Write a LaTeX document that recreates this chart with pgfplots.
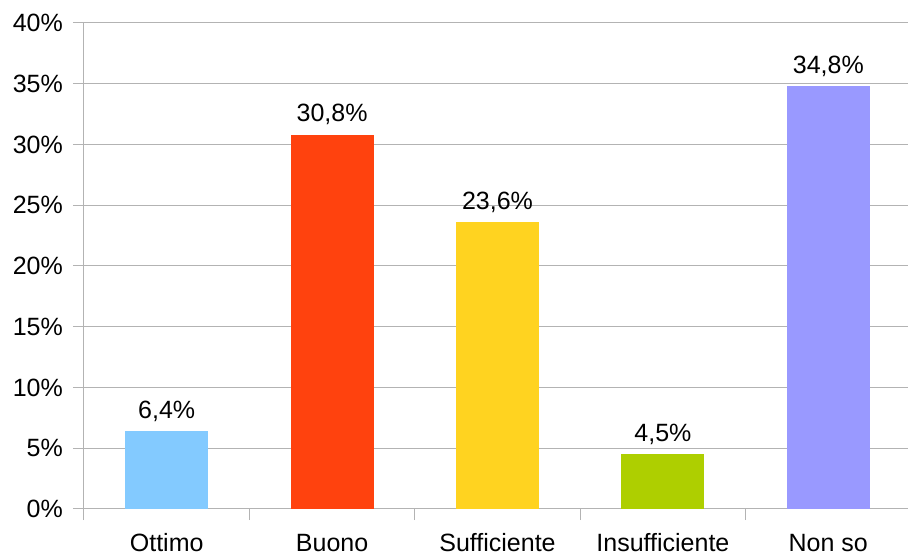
\documentclass[border=0pt]{standalone}
\usepackage{fontspec}
\setmainfont{Liberation Sans}
\usepackage{pgfplots}
\pgfplotsset{compat=1.18}
\definecolor{gridc}{HTML}{B3B3B3}
\definecolor{c1}{HTML}{83CAFF}
\definecolor{c2}{HTML}{FF420E}
\definecolor{c3}{HTML}{FFD320}
\definecolor{c4}{HTML}{AECF00}
\definecolor{c5}{HTML}{9999FF}
\begin{document}
\begin{tikzpicture}
\begin{axis}[
  at={(84pt,48pt)}, anchor=south west,
  scale only axis, width=827pt, height=486pt,
  xmin=-0.5, xmax=4.5, ymin=0, ymax=40,
  axis line style={gridc, line width=1pt},
  axis x line*=bottom, axis y line*=left,
  ytick={0,5,...,40},
  yticklabels={0\%,5\%,10\%,15\%,20\%,25\%,30\%,35\%,40\%},
  ymajorgrids, grid style={gridc, line width=1pt},
  tick align=outside, major tick length=11pt,
  tick style={gridc, line width=1pt},
  xtick={-0.5,0.5,1.5,2.5,3.5,4.5},
  xticklabels={},
  extra x ticks={0,1,2,3,4},
  extra x tick labels={Ottimo,Buono,Sufficiente,Insufficiente,Non so},
  extra x tick style={major tick length=0pt, tick style={draw=none}, grid=none,
    xticklabel style={anchor=base, yshift=-42pt}},
  yticklabel style={inner sep=0pt, xshift=-10pt},
  font=\fontsize{25}{30}\selectfont,
  ybar, bar width=83pt, bar shift=0pt,
  point meta=explicit symbolic,
  nodes near coords,
  nodes near coords style={font=\fontsize{25}{30}\selectfont, anchor=base, inner sep=0pt, yshift=13pt},
  clip=false,
]
\addplot[fill=c1, draw=none] coordinates {(0,6.4) [6,4\%]};
\addplot[fill=c2, draw=none] coordinates {(1,30.8) [30,8\%]};
\addplot[fill=c3, draw=none] coordinates {(2,23.6) [23,6\%]};
\addplot[fill=c4, draw=none] coordinates {(3,4.5) [4,5\%]};
\addplot[fill=c5, draw=none] coordinates {(4,34.8) [34,8\%]};
\end{axis}
\pgfresetboundingbox
\useasboundingbox (0,0) rectangle (908pt,557pt);
\end{tikzpicture}
\end{document}
